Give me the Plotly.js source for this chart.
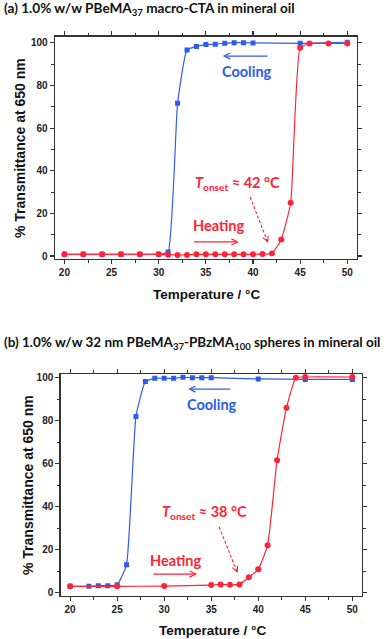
<!DOCTYPE html>
<html>
<head>
<meta charset="utf-8">
<script src="https://cdn.plot.ly/plotly-3.0.1.min.js"></script>
<style>
    html, body { margin: 0; padding: 0; background: #fff; }
    #chart { width: 387px; height: 639px; }
</style>
</head>
<body>
<div id="chart"></div>
<script>
// (a) 1.0% w/w PBeMA37 macro-CTA
let tempCoolA = [20, 22, 24, 26, 28, 30, 31, 32, 33, 34, 35, 36, 37, 38, 39, 40, 45, 50];
let transCoolA = [0.8, 0.8, 0.8, 0.8, 0.8, 0.8, 1.9, 71.7, 96.7, 98.3, 99.2, 99.4, 99.8, 100.1, 100.1, 100, 99.8, 100.3];
let tempHeatA = [20, 22, 24, 26, 28, 30, 31, 32, 33, 34, 35, 36, 37, 38, 39, 40, 41, 42, 43, 44, 45, 46, 48, 50];
let transHeatA = [0.8, 0.8, 0.8, 0.8, 0.8, 0.8, 0.6, 0.5, 0.5, 0.8, 0.8, 0.8, 0.8, 0.8, 0.8, 0.8, 0.9, 1.2, 7.8, 25, 97.7, 99.7, 99.7, 99.7];

// (b) 32 nm PBeMA37-PBzMA100 spheres
let tempCoolB = [20, 22, 23, 24, 25, 26, 27, 28, 29, 30, 31, 32, 33, 34, 35, 40, 45, 50];
let transCoolB = [3.0, 3.0, 3.3, 3.3, 3.7, 13, 82, 98.2, 99.7, 99.7, 99.7, 100.2, 100, 100, 100, 99.4, 99.2, 99.2];
let tempHeatB = [20, 25, 30, 35, 36, 37, 38, 39, 40, 41, 42, 43, 44, 45, 50];
let transHeatB = [3.0, 3.0, 3.1, 3.6, 3.9, 3.7, 3.9, 7.2, 10.9, 22.1, 61.6, 86, 100, 100.3, 100.3];

let blue = '#2f5bec';
let red = '#ff2338';
let frameColor = '#333';
let labelFont = 'Lato, "Open Sans", sans-serif';
let axisFont = '"Liberation Sans", Arial, sans-serif';

function makeTrace(x, y, color, symbol, xa, ya) {
    return {
        x: x,
        y: y,
        xaxis: xa,
        yaxis: ya,
        type: 'scatter',
        mode: 'lines+markers',
        line: {color: color, width: 1.2, shape: 'spline', smoothing: 0.4},
        marker: {color: color, symbol: symbol, size: symbol === 'square' ? 5 : 6},
        showlegend: false,
        hoverinfo: 'x+y'
    };
}

function makeAxis(domain, anchor, range, dtick, minorDtick) {
    return {
        domain: domain,
        anchor: anchor,
        range: range,
        tick0: 0,
        dtick: dtick,
        ticks: 'outside',
        ticklen: 4,
        tickwidth: 1.1,
        tickcolor: frameColor,
        minor: {dtick: minorDtick, ticks: 'outside', ticklen: 2.5, tickwidth: 1, tickcolor: frameColor},
        showline: true,
        linewidth: 1.4,
        linecolor: frameColor,
        mirror: 'ticks',
        showgrid: false,
        zeroline: false,
        tickfont: {family: axisFont, size: 10, color: '#222', weight: 'bold'}
    };
}

let traces = [
    makeTrace(tempCoolA, transCoolA, blue, 'square', 'x', 'y'),
    makeTrace(tempHeatA, transHeatA, red, 'circle', 'x', 'y'),
    makeTrace(tempCoolB, transCoolB, blue, 'square', 'x2', 'y2'),
    makeTrace(tempHeatB, transHeatB, red, 'circle', 'x2', 'y2')
];

// text + arrow helpers
function label(text, x, y, color, xa, ya, anchor) {
    return {
        text: text, x: x, y: y, xref: xa, yref: ya, showarrow: false,
        xanchor: anchor || 'center', yanchor: 'middle',
        font: {family: labelFont, size: 14.5, color: color, weight: 'bold'}
    };
}

function arrow(x0, y0, x1, y1, color, xa, ya) {
    return {
        text: '', x: x1, y: y1, ax: x0, ay: y0, xref: xa, yref: ya, axref: xa, ayref: ya,
        showarrow: true, arrowhead: 5, arrowsize: 1, arrowwidth: 1.2, arrowcolor: color
    };
}

// short solid stub at the end of a dashed line, just to get the head
function dashHead(x1, y1, dxPx, dyPx, color, xa, ya) {
    return {
        text: '', x: x1, y: y1, ax: dxPx, ay: dyPx, xref: xa, yref: ya,
        showarrow: true, arrowhead: 5, arrowsize: 1, arrowwidth: 1.1, arrowcolor: color
    };
}

function paperText(text, x, y, size, family, anchor, angle) {
    return {
        text: text, x: x / 387, y: 1 - y / 639, xref: 'paper', yref: 'paper', showarrow: false,
        xanchor: anchor, yanchor: 'middle', textangle: angle || 0,
        font: {family: family, size: size, color: '#111', weight: 'bold'}
    };
}

let annotations = [
    paperText('(a) 1.0% w/w PBeMA<sub>37</sub> macro-CTA in mineral oil', 2, 9, 13.6, labelFont, 'left'),
    paperText('(b) 1.0% w/w 32 nm PBeMA<sub>37</sub>-PBzMA<sub>100</sub> spheres in mineral oil', 2, 343, 13.5, labelFont, 'left'),
    paperText('Temperature / °C', 207, 294, 13.5, axisFont, 'center'),
    paperText('Temperature / °C', 212, 630, 13.5, axisFont, 'center'),
    paperText('% Transmittance at 650 nm', 20, 148, 14, axisFont, 'center', -90),
    paperText('% Transmittance at 650 nm', 28, 485, 14, axisFont, 'center', -90),

    label('Cooling', 39.4, 86.7, blue, 'x', 'y'),
    arrow(41.7, 93.8, 36.8, 93.8, blue, 'x', 'y'),
    label('Heating', 36.3, 14.1, red, 'x', 'y'),
    arrow(33.6, 6.6, 38.5, 6.6, red, 'x', 'y'),
    label('<i>T</i><sub>onset</sub> ≈ 42 °C', 33.6, 34.2, red, 'x', 'y', 'left'),
    dashHead(41.6, 6.1, -2.2, -5.6, red, 'x', 'y'),

    label('Cooling', 35.1, 87.3, blue, 'x2', 'y2'),
    arrow(37.2, 94.7, 32.55, 94.7, blue, 'x2', 'y2'),
    label('Heating', 31.2, 15.2, red, 'x2', 'y2'),
    arrow(28.7, 8.7, 33.5, 8.7, red, 'x2', 'y2'),
    label('<i>T</i><sub>onset</sub> ≈ 38 °C', 29.6, 37.1, red, 'x2', 'y2', 'left'),
    dashHead(37.8, 9.2, -2.2, -5.6, red, 'x2', 'y2')
];

let shapes = [
    {type: 'line', xref: 'x', yref: 'y', x0: 39.7, y0: 27.7, x1: 41.6, y1: 6.1,
        line: {color: red, width: 1.1, dash: '3px,2px'}},
    {type: 'line', xref: 'x2', yref: 'y2', x0: 35.85, y0: 30.6, x1: 37.8, y1: 9.2,
        line: {color: red, width: 1.1, dash: '3px,2px'}}
];

let layout = {
    width: 387,
    height: 639,
    margin: {l: 0, r: 0, t: 0, b: 0},
    paper_bgcolor: '#fff',
    plot_bgcolor: '#fff',
    showlegend: false,
    xaxis: makeAxis([55 / 387, 356.7 / 387], 'y', [19, 51], 5, 2.5),
    yaxis: makeAxis([1 - 259 / 639, 1 - 36.7 / 639], 'x', [-1.4, 102.9], 20, 10),
    xaxis2: makeAxis([60.7 / 387, 361.7 / 387], 'y2', [19, 51], 5, 2.5),
    yaxis2: makeAxis([1 - 596 / 639, 1 - 374 / 639], 'x2', [-1.5, 101.7], 20, 10),
    annotations: annotations,
    shapes: shapes
};

Plotly.newPlot('chart', traces, layout, {displayModeBar: false, staticPlot: true});
</script>
</body>
</html>
